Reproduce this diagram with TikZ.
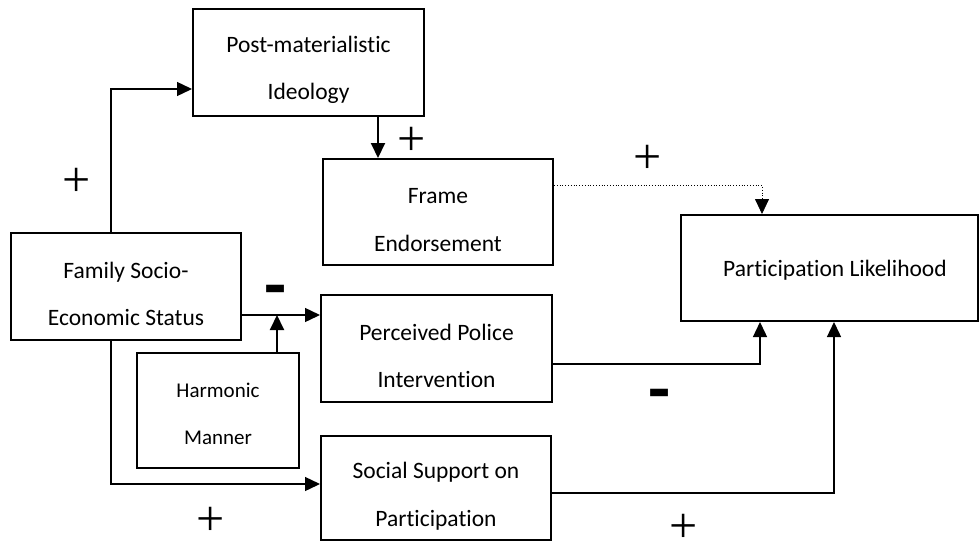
\documentclass[tikz,border=0pt]{standalone}
\usepackage{fontspec}
\setmainfont{Carlito}[Ligatures=NoCommon,RawFeature={-liga;-clig;-calt}]
\newfontfamily\signfont{Liberation Serif}
\usetikzlibrary{arrows.meta,calc}
\begin{document}
\begin{tikzpicture}[x=1pt,y=-1pt,
  box/.style={draw,line width=2pt,inner sep=0pt},
  txt/.style={align=center,font=\fontsize{23.5}{47.5}\selectfont,inner sep=0pt},
  stxt/.style={align=center,font=\fontsize{21}{47}\selectfont,inner sep=0pt},
  tip/.style={-{Triangle[length=15pt,width=14pt]}},
  arr/.style={line width=1.4pt,tip},
  plus/.style={font=\signfont\fontsize{50}{50}\selectfont,inner sep=0pt,text height=26pt,text depth=0pt,anchor=base},
  minus/.style={font=\bfseries\fontsize{72}{72}\selectfont,inner sep=0pt,anchor=base}]
\useasboundingbox (0,0) rectangle (979,541);
% boxes
\node[box,minimum width=231pt,minimum height=107pt] (post) at (308.5,62.5) {};
\node[box,minimum width=230pt,minimum height=106pt] (frame) at (438,212) {};
\node[box,minimum width=297pt,minimum height=106pt] (pl) at (829.5,268) {};
\node[box,minimum width=230pt,minimum height=107pt] (fam) at (126,286.5) {};
\node[box,minimum width=231pt,minimum height=107pt] (police) at (436.5,348.5) {};
\node[box,minimum width=162pt,minimum height=115pt] (harm) at (218,410.5) {};
\node[box,minimum width=230pt,minimum height=104pt] (social) at (436,488) {};
% texts
\node[txt] (tpost) at (308.5,70) {Post-materialistic\\Ideology};
\node[txt] (tframe) at (438,220) {Frame\\Endorsement};
\node[txt] (tpl) at (835,270) {Participation Likelihood};
\node[txt] (tfam) at (126,294) {Family Socio-\\Economic Status};
\node[txt] (tpolice) at (436.5,356) {Perceived Police\\Intervention};
\node[stxt] (tharm) at (218,413.5) {Harmonic\\Manner};
\node[txt] (tsocial) at (436,496) {Social Support on\\Participation};
% connectors
\coordinate (a1) at ($(fam.north)+(-15,0)$);
\draw[arr] (a1) |- ($(post.west)+(0,26.5)$);
\coordinate (a2) at ($(post.south)+(69.5,0)$);
\draw[arr,line width=2pt] (a2) -- (a2 |- frame.north);
\coordinate (a3) at ($(frame.east)+(0,-27)$);
\draw[line width=0.8pt,dotted,tip] (a3) -| ($(pl.north)+(-67.5,0)$);
\coordinate (a4) at ($(fam.east)+(0,28.5)$);
\draw[arr] (a4) -- (a4 -| police.west);
\coordinate (a5) at ($(harm.north)+(59,0)$);
\draw[arr,line width=2pt] (a5) -- (a5 |- a4);
\coordinate (a6) at ($(fam.south)+(-15,0)$);
\draw[arr] (a6) |- ($(social.west)+(0,-4)$);
\coordinate (a7) at ($(police.east)+(0,15.5)$);
\draw[arr] (a7) -| ($(pl.south)+(-69.5,0)$);
\coordinate (a8) at ($(social.east)+(0,5)$);
\draw[arr] (a8) -| ($(pl.south)+(4.5,0)$);
% signs
\node[plus] (p1) at (77,196) {+};
\node[plus] (p2) at (412,155.5) {+};
\node[plus] (p3) at (648,173.5) {+};
\node[plus] (p4) at (211,535.5) {+};
\node[plus] (p5) at (683.5,542) {+};
\node[minus] (m1) at (275.5,309) {-};
\node[minus] (m2) at (659.5,413) {-};
\end{tikzpicture}
\end{document}
